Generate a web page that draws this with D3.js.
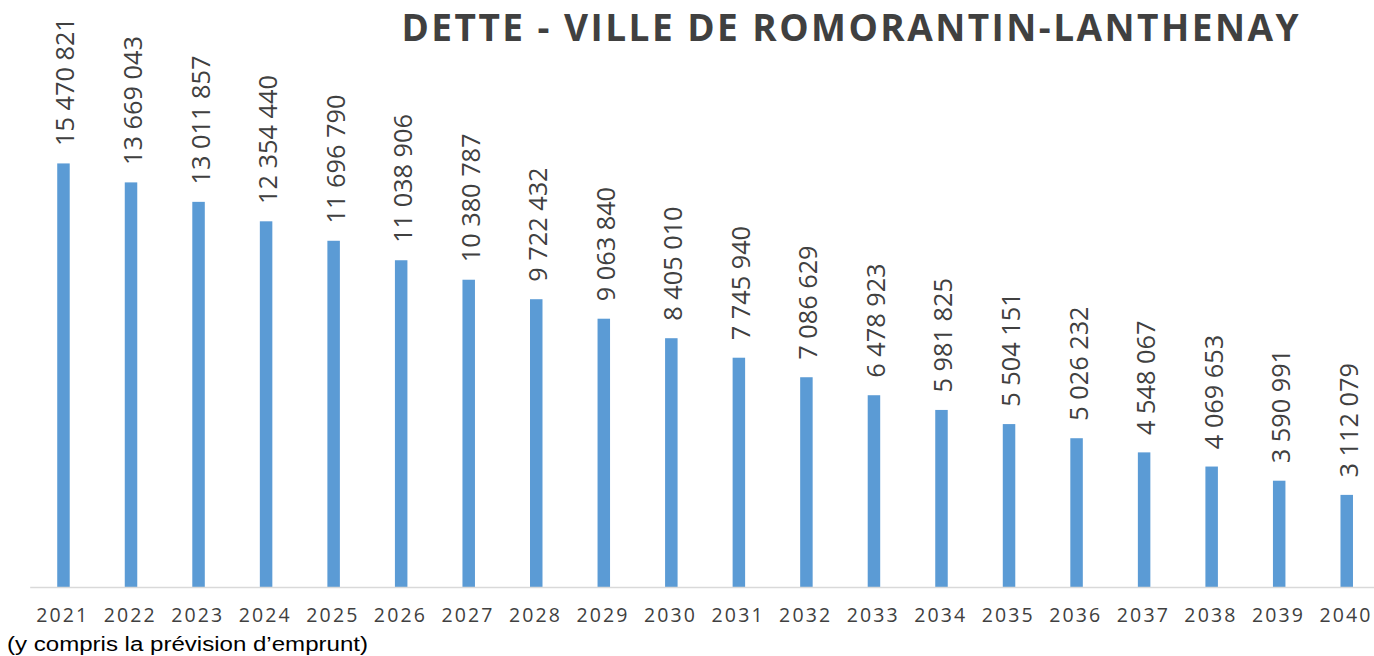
<!DOCTYPE html>
<html>
<head>
<meta charset="utf-8">
<script src="https://cdn.jsdelivr.net/npm/d3@7"></script>
<style>
  html, body { margin: 0; padding: 0; background: #fff; }
  svg { display: block; }
</style>
</head>
<body>
<svg id="chart" width="1374" height="656"></svg>
<script>
const years = ["2021","2022","2023","2024","2025","2026","2027","2028","2029","2030",
               "2031","2032","2033","2034","2035","2036","2037","2038","2039","2040"];
// Values shown in the labels
const debt = [15470821, 13669043, 13011857, 12354440, 11696790, 11038906, 10380787, 9722432, 9063840, 8405010,
              7745940, 7086629, 6478923, 5981825, 5504151, 5026232, 4548067, 4069653, 3590991, 3112079];
// Bar heights as drawn in the source picture (the 2021 bar is drawn shorter than its label)
const barValues = [14310000, 13669043, 13011857, 12354440, 11696790, 11038906, 10380787, 9722432, 9063840, 8405010,
              7745940, 7086629, 6478923, 5981825, 5504151, 5026232, 4548067, 4069653, 3590991, 3112079];
const title = "DETTE - VILLE DE ROMORANTIN-LANTHENAY";
const caption = "(y compris la prévision d\u2019emprunt)";

const svg = d3.select("#chart");
const baseY = 587;

const x = d3.scaleBand().domain(years).range([29.7, 1380.5]).paddingInner(0.815).paddingOuter(0.4075);
const y = d3.scaleLinear().domain([0, 16000000]).range([baseY, baseY - 16 * 29.6]);

const fmt = v => d3.format(",")(v).replace(/,/g, " ");

// Bars
svg.append("g").selectAll("rect").data(years).join("rect")
  .attr("x", d => x(d))
  .attr("width", x.bandwidth())
  .attr("y", (d, i) => y(barValues[i]))
  .attr("height", (d, i) => baseY - y(barValues[i]))
  .attr("fill", "#5b9bd5");

// Value labels (rotated)
svg.append("g").selectAll("text").data(years).join("text")
  .attr("transform", (d, i) => `translate(${x(d) + x.bandwidth() / 2 + 11},${y(barValues[i]) - 17.4}) rotate(-90)`)
  .attr("text-anchor", "start")
  .attr("font-family", "'Open Sans', sans-serif")
  .attr("font-size", 25.3)
  .attr("fill", "#404040")
  .text((d, i) => fmt(debt[i]));

// X axis
const xAxis = svg.append("g")
  .attr("transform", `translate(0,${baseY})`)
  .call(d3.axisBottom(x).tickSize(0).tickPadding(0));
xAxis.select(".domain").attr("stroke", "#d9d9d9").attr("stroke-width", 1.5);
xAxis.selectAll(".tick text")
  .attr("y", 35)
  .attr("dy", 0)
  .attr("x", -1.8)
  .attr("font-family", "'Open Sans', sans-serif")
  .attr("font-size", 19.5)
  .attr("fill", "#404040")
  .attr("textLength", 51)
  .attr("lengthAdjust", "spacing");

// Title
svg.append("text")
  .attr("x", 401.5)
  .attr("y", 40.7)
  .attr("font-family", "'Open Sans', sans-serif")
  .attr("font-weight", "bold")
  .attr("font-size", 37)
  .attr("fill", "#404040")
  .attr("textLength", 897)
  .attr("lengthAdjust", "spacing")
  .text(title);

// Caption
svg.append("text")
  .attr("x", 7)
  .attr("y", 651)
  .attr("font-family", "'Liberation Sans', Arial, sans-serif")
  .attr("font-size", 19.5)
  .attr("fill", "#000")
  .attr("textLength", 361)
  .attr("lengthAdjust", "spacingAndGlyphs")
  .text(caption);
</script>
</body>
</html>
